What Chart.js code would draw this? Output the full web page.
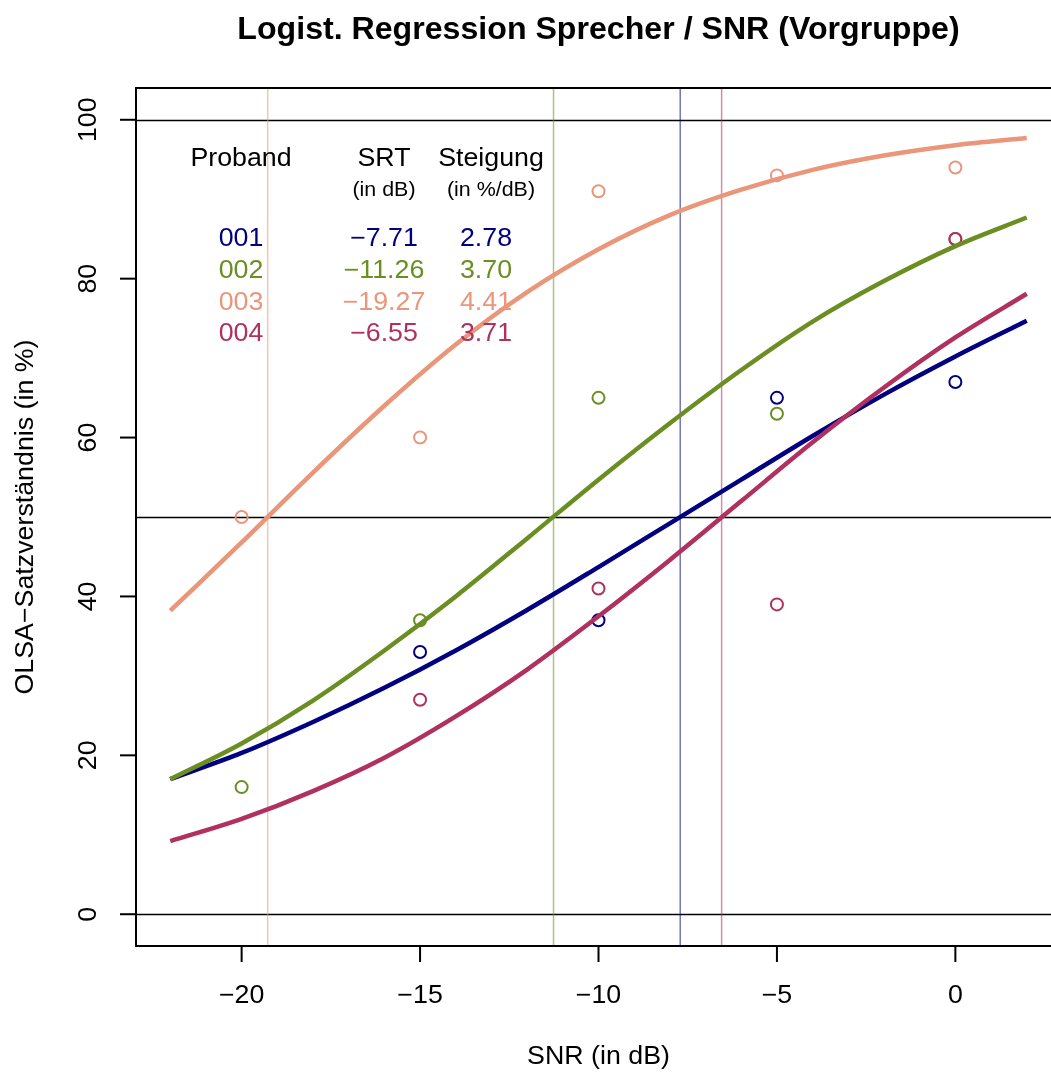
<!DOCTYPE html>
<html>
<head>
<meta charset="utf-8">
<title>Logist. Regression Sprecher / SNR</title>
<script src="https://cdn.jsdelivr.net/npm/chart.js@4.4.1/dist/chart.umd.min.js"></script>
<style>
  html, body { margin: 0; padding: 0; background: #fff; overflow: hidden; }
  canvas { display: block; }
</style>
</head>
<body>
<canvas id="chart" width="1062" height="1077"></canvas>
<script>
// --- data ---
const snrLevels = [-20, -15, -10, -5, 0];
const probanden = ['001', '002', '003', '004'];
const colors = ['#000080', '#6B8E23', '#E9967A', '#B03060'];
const srtValues = ['\u22127.71', '\u221211.26', '\u221219.27', '\u22126.55'];
const srtNumbers = [-7.71, -11.26, -19.27, -6.55];
const slopeValues = ['2.78', '3.70', '4.41', '3.71'];

// measured points (in %), null = no point
const measured001 = [null, 33, 37, 65, 67];
const measured002 = [16, 37, 65, 63, 85];
const measured003 = [50, 60, 91, 93, 94];
const measured004 = [null, 27, 41, 39, 85];

// fitted curves, read every 2 dB
const curveSnr = [-22, -20, -18, -16, -14, -12, -10, -8, -6, -4, -2, 0, 2];
const fit001 = [17.0, 20.3, 24.2, 28.5, 33.2, 38.3, 43.7, 49.2, 54.7, 60.2, 65.4, 70.2, 74.7];
const fit002 = [17.0, 21.5, 26.9, 33.2, 40.0, 47.3, 54.7, 61.8, 68.5, 74.6, 79.7, 84.1, 87.7];
const fit003 = [38.2, 46.8, 55.6, 64.0, 71.7, 78.3, 83.7, 88.0, 91.2, 93.7, 95.5, 96.8, 97.7];
const fit004 = [9.2, 12.0, 15.5, 19.7, 24.9, 30.8, 37.5, 44.6, 52.0, 59.4, 66.3, 72.6, 78.1];

const xTicks = [-20, -15, -10, -5, 0];
const yTicks = [0, 20, 40, 60, 80, 100];
const refLines = [0, 50, 100];

const measured = [measured001, measured002, measured003, measured004];
const fits = [fit001, fit002, fit003, fit004];

const FONT = '"Liberation Sans", Arial, Helvetica, sans-serif';
const STRETCH = 1.05; // text in the original is a little wider than Arial

function withAlpha(hex, a) {
    const n = parseInt(hex.slice(1), 16);
    return `rgba(${(n >> 16) & 255}, ${(n >> 8) & 255}, ${n & 255}, ${a})`;
}

// draw text centred on (x, y), optionally rotated
function label(ctx, text, x, y, rot) {
    ctx.save();
    ctx.translate(x, y);
    if (rot) ctx.rotate(rot);
    ctx.scale(STRETCH, 1);
    ctx.fillText(text, 0, 0);
    ctx.restore();
}

const datasets = [];
probanden.forEach((p, i) => {
    datasets.push({
        label: 'Messung ' + p,
        data: snrLevels.map((x, j) => ({ x: x, y: measured[i][j] })).filter(d => d.y !== null),
        showLine: false,
        pointRadius: 6,
        pointBorderWidth: 2,
        pointBackgroundColor: 'rgba(0,0,0,0)',
        pointBorderColor: colors[i],
        order: 20 - i
    });
    datasets.push({
        label: 'Fit ' + p,
        data: curveSnr.map((x, j) => ({ x: x, y: fits[i][j] })),
        showLine: true,
        borderColor: colors[i],
        borderWidth: 4.5,
        pointRadius: 0,
        cubicInterpolationMode: 'monotone',
        fill: false,
        order: 10 - i
    });
});

// R-style box, reference lines, axes and annotations
const rPlot = {
    id: 'rPlot',
    beforeDatasetsDraw(chart) {
        const { ctx, chartArea: a, scales: { x, y } } = chart;
        ctx.save();
        // horizontal reference lines
        ctx.strokeStyle = '#000';
        ctx.lineWidth = 1.3;
        refLines.forEach(v => {
            const py = Math.round(y.getPixelForValue(v)) + 0.5;
            ctx.beginPath();
            ctx.moveTo(a.left, py);
            ctx.lineTo(a.right, py);
            ctx.stroke();
        });
        // vertical SRT lines
        ctx.lineWidth = 1.5;
        srtNumbers.forEach((v, i) => {
            const px = x.getPixelForValue(v);
            ctx.strokeStyle = withAlpha(colors[i], 0.55);
            ctx.beginPath();
            ctx.moveTo(px, a.top);
            ctx.lineTo(px, a.bottom);
            ctx.stroke();
        });
        ctx.restore();
    },
    afterDraw(chart) {
        const { ctx, chartArea: a, scales: { x, y } } = chart;
        ctx.save();
        // box
        ctx.strokeStyle = '#000';
        ctx.lineWidth = 2;
        ctx.strokeRect(a.left, a.top, a.right - a.left, a.bottom - a.top);

        // x axis ticks + labels
        ctx.fillStyle = '#000';
        ctx.font = '25.5px ' + FONT;
        ctx.textAlign = 'center';
        ctx.textBaseline = 'middle';
        xTicks.forEach(v => {
            const px = x.getPixelForValue(v);
            ctx.beginPath();
            ctx.moveTo(px, a.bottom);
            ctx.lineTo(px, a.bottom + 16);
            ctx.stroke();
            label(ctx, String(v).replace('-', '\u2212'), px, 996);
        });
        // y axis ticks + labels (rotated)
        yTicks.forEach(v => {
            const py = y.getPixelForValue(v);
            ctx.beginPath();
            ctx.moveTo(a.left, py);
            ctx.lineTo(a.left - 16, py);
            ctx.stroke();
            label(ctx, String(v), 89, py, -Math.PI / 2);
        });

        // axis titles
        const cx = (a.left + a.right) / 2;
        label(ctx, 'SNR (in dB)', cx, 1057);
        label(ctx, 'OLSA\u2212Satzverst\u00e4ndnis (in %)', 26, (a.top + a.bottom) / 2, -Math.PI / 2);

        // main title
        ctx.font = 'bold 30.6px ' + FONT;
        label(ctx, 'Logist. Regression Sprecher / SNR (Vorgruppe)', cx, 31);

        // table inside the plot
        ctx.font = '25.5px ' + FONT;
        label(ctx, 'Proband', 241, 159);
        label(ctx, 'SRT', 384, 159);
        label(ctx, 'Steigung', 491, 159);
        ctx.font = '20.4px ' + FONT;
        label(ctx, '(in dB)', 384, 190);
        label(ctx, '(in %/dB)', 491, 190);
        ctx.font = '25.5px ' + FONT;
        const rowY = [239, 271, 303, 334];
        probanden.forEach((p, i) => {
            ctx.fillStyle = colors[i];
            label(ctx, p, 241, rowY[i]);
            label(ctx, srtValues[i], 384, rowY[i]);
            label(ctx, slopeValues[i], 486, rowY[i]);
        });
        ctx.restore();
    }
};

new Chart(document.getElementById('chart'), {
    type: 'scatter',
    data: { datasets: datasets },
    options: {
        responsive: false,
        animation: false,
        layout: { autoPadding: false, padding: { left: 136, right: 1, top: 88, bottom: 131 } },
        scales: {
            x: { type: 'linear', min: -22.96, max: 2.96, display: false },
            y: { type: 'linear', min: -4, max: 104, display: false }
        },
        plugins: {
            legend: { display: false },
            title: { display: false },
            tooltip: { enabled: false }
        }
    },
    plugins: [rPlot]
});
</script>
</body>
</html>
